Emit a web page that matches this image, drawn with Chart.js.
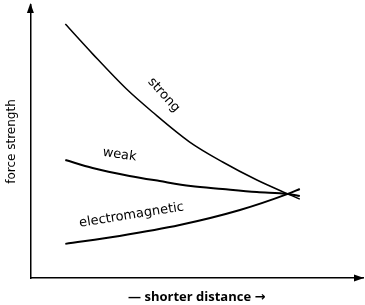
<!DOCTYPE html>
<html>
<head>
<meta charset="utf-8">
<script src="https://cdn.jsdelivr.net/npm/chart.js@4"></script>
<style>
html,body{margin:0;padding:0;background:#fff;}
#wrap{width:365px;height:305px;}
</style>
</head>
<body>
<div id="wrap"><canvas id="c" width="365" height="305"></canvas></div>
<script>
// distance (shorter to the right), abstract units 0..100
const strongX = [10.5, 18.7, 28.9, 36.7, 47.9, 57.8, 68.1, 77.4, 81.0];
const strongY = [93.0, 82.1, 69.2, 60.8, 49.8, 42.5, 35.9, 30.8, 28.9];
const weakX   = [10.5, 18.7, 29.8, 38.9, 48.2, 57.8, 68.1, 77.4, 81.0];
const weakY   = [43.2, 40.3, 37.4, 35.5, 33.7, 32.6, 31.5, 30.8, 30.0];
const emX     = [10.5, 26.8, 44.9, 63.0, 77.4, 81.0];
const emY     = [12.5, 15.4, 19.4, 24.9, 30.8, 32.6];

const seriesNames = ['strong', 'weak', 'electromagnetic'];
// label anchor (data units) and rotation (degrees)
const labelX = [40.1, 26.8, 30.4];
const labelY = [67.0, 45.1, 23.0];
const labelAngle = [48, 8, -9];

const xTitle = '\u2014 shorter distance \u2192';
const yTitle = 'force strength';

function pts(xs, ys){ return xs.map((x,i)=>({x:x, y:ys[i]})); }

const labelPlugin = {
  id: 'labelsAndArrows',
  afterDraw(chart){
    const ctx = chart.ctx;
    const xs = chart.scales.x, ys = chart.scales.y;
    ctx.save();
    ctx.fillStyle = '#000';
    ctx.font = '13px "DejaVu Sans", sans-serif';
    ctx.textAlign = 'center';
    ctx.textBaseline = 'middle';
    seriesNames.forEach((n,i)=>{
      const px = xs.getPixelForValue(labelX[i]);
      const py = ys.getPixelForValue(labelY[i]);
      ctx.save();
      ctx.translate(px, py);
      ctx.rotate(labelAngle[i]*Math.PI/180);
      ctx.fillText(n, 0, 0);
      ctx.restore();
    });
    // arrow heads on axes
    const a = chart.chartArea;
    ctx.beginPath();
    ctx.moveTo(a.left, a.top - 2);
    ctx.lineTo(a.left - 3.5, a.top + 8);
    ctx.lineTo(a.left + 3.5, a.top + 8);
    ctx.closePath();
    ctx.fill();
    ctx.beginPath();
    ctx.moveTo(a.right + 1, a.bottom);
    ctx.lineTo(a.right - 9, a.bottom - 3.5);
    ctx.lineTo(a.right - 9, a.bottom + 3.5);
    ctx.closePath();
    ctx.fill();
    ctx.restore();
  }
};

const lineStyle = {borderColor:'#000', pointRadius:0, showLine:true, fill:false, tension:0.4, cubicInterpolationMode:'monotone'};

new Chart(document.getElementById('c'), {
  type: 'scatter',
  data: {
    datasets: [
      Object.assign({label: seriesNames[0], data: pts(strongX, strongY), borderWidth:1.5}, lineStyle),
      Object.assign({label: seriesNames[1], data: pts(weakX, weakY), borderWidth:2}, lineStyle),
      Object.assign({label: seriesNames[2], data: pts(emX, emY), borderWidth:2}, lineStyle)
    ]
  },
  options: {
    responsive: false,
    animation: false,
    devicePixelRatio: 1,
    layout: { padding: { left: 3, top: 5, right: 2, bottom: 0 } },
    plugins: { legend: {display:false}, tooltip: {enabled:false} },
    scales: {
      x: {
        type: 'linear', min: 0, max: 100,
        grid: { display: false, drawTicks: false },
        ticks: { display: false },
        border: { display: true, color: '#000', width: 1.5 },
        title: { display: true, text: xTitle, color: '#000',
                 font: { family: '"Open Sans", "DejaVu Sans", sans-serif', size: 13, weight: 'bold' },
                 padding: { top: 11, bottom: 0.4 } }
      },
      y: {
        type: 'linear', min: 0, max: 100,
        grid: { display: false, drawTicks: false },
        ticks: { display: false },
        border: { display: true, color: '#000', width: 1.5 },
        title: { display: true, text: yTitle, color: '#000',
                 font: { family: '"DejaVu Sans", sans-serif', size: 12 },
                 padding: { top: 2, bottom: 11 } }
      }
    }
  },
  plugins: [labelPlugin]
});
</script>
</body>
</html>
